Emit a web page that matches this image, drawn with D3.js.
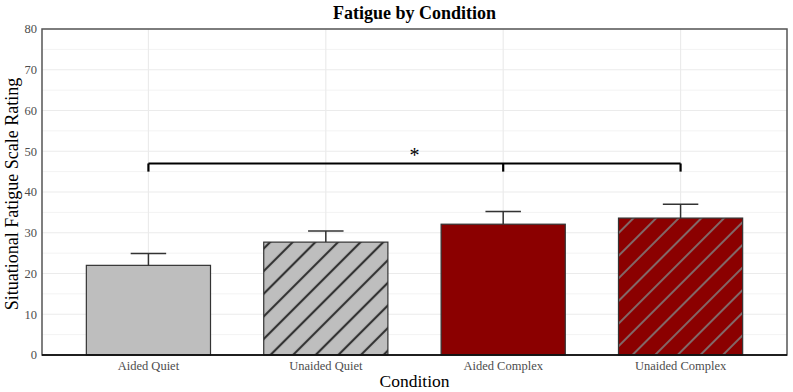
<!DOCTYPE html>
<html>
<head>
<meta charset="utf-8">
<script src="https://cdn.jsdelivr.net/npm/d3@7"></script>
<style>
  body { margin: 0; background: #fff; }
  text { font-family: "Liberation Serif", "Times New Roman", serif; }
</style>
</head>
<body>
<div id="chart"></div>
<script>
// data
const conditions = ["Aided Quiet", "Unaided Quiet", "Aided Complex", "Unaided Complex"];
const means = [22.0, 27.7, 32.1, 33.6];
const upper = [24.9, 30.4, 35.2, 37.0];
const fills = ["#bebebe", "#bebebe", "#8b0000", "#8b0000"];
const hatched = [false, true, false, true];
const yTicks = [0, 10, 20, 30, 40, 50, 60, 70, 80];
// significance bracket: from bar 1 to bar 4 with a tick at bar 3
const bracketY = 47, bracketDrop = 45;
const bracketAt = [0, 2, 3];

const W = 793, H = 392;
const margin = { top: 29, right: 6, bottom: 37, left: 42 };
const width = W - margin.left - margin.right,
    height = H - margin.top - margin.bottom;

const svg = d3.select("#chart").append("svg")
    .attr("width", W).attr("height", H);

// hatch patterns
const defs = svg.append("defs");
function hatch(id, bg, line, lw) {
    const s = 16;
    const p = defs.append("pattern")
        .attr("id", id)
        .attr("patternUnits", "userSpaceOnUse")
        .attr("width", s).attr("height", s)
        .attr("patternTransform", "rotate(-45)");
    p.append("rect").attr("width", s).attr("height", s).attr("fill", bg);
    p.append("rect").attr("x", 0).attr("y", (s - lw) / 2).attr("width", s).attr("height", lw).attr("fill", line);
}
hatch("hatchGrey", "#bebebe", "#333", 2.2);
hatch("hatchRed", "#8b0000", "#808080", 1.6);

const g = svg.append("g")
    .attr("transform", `translate(${margin.left}, ${margin.top})`);

// ggplot-like discrete scale: 0.6 expansion each side
const x = d3.scaleLinear().domain([0.4, conditions.length + 0.6]).range([0, width]);
const y = d3.scaleLinear().domain([0, 80]).range([height, 0]);
const barW = x(1.35) - x(1);
const capW = x(1.1) - x(1);

// grid
const minor = d3.range(5, 80, 10);
g.selectAll(".minor").data(minor).enter().append("line")
    .attr("x1", 0).attr("x2", width)
    .attr("y1", d => y(d)).attr("y2", d => y(d))
    .attr("stroke", "#f3f3f3").attr("stroke-width", 1);
g.selectAll(".major").data(yTicks).enter().append("line")
    .attr("x1", 0).attr("x2", width)
    .attr("y1", d => y(d)).attr("y2", d => y(d))
    .attr("stroke", "#ebebeb").attr("stroke-width", 1.2);
g.selectAll(".vgrid").data(conditions).enter().append("line")
    .attr("x1", (d, i) => x(i + 1)).attr("x2", (d, i) => x(i + 1))
    .attr("y1", 0).attr("y2", height)
    .attr("stroke", "#ebebeb").attr("stroke-width", 1.2);

// bars
g.selectAll(".bar").data(conditions).enter().append("rect")
    .attr("x", (d, i) => x(i + 1) - barW)
    .attr("y", (d, i) => y(means[i]))
    .attr("width", barW * 2)
    .attr("height", (d, i) => y(0) - y(means[i]))
    .attr("fill", (d, i) => hatched[i] ? (i < 2 ? "url(#hatchGrey)" : "url(#hatchRed)") : fills[i])
    .attr("stroke", "#333").attr("stroke-width", 1.2);

// error bars (upper only)
g.selectAll(".err").data(conditions).enter().append("line")
    .attr("x1", (d, i) => x(i + 1)).attr("x2", (d, i) => x(i + 1))
    .attr("y1", (d, i) => y(means[i])).attr("y2", (d, i) => y(upper[i]))
    .attr("stroke", "#333").attr("stroke-width", 1.5);
g.selectAll(".cap").data(conditions).enter().append("line")
    .attr("x1", (d, i) => x(i + 1) - capW).attr("x2", (d, i) => x(i + 1) + capW)
    .attr("y1", (d, i) => y(upper[i])).attr("y2", (d, i) => y(upper[i]))
    .attr("stroke", "#333").attr("stroke-width", 1.5);

// significance bracket
g.append("line")
    .attr("x1", x(bracketAt[0] + 1)).attr("x2", x(bracketAt[bracketAt.length - 1] + 1))
    .attr("y1", y(bracketY)).attr("y2", y(bracketY))
    .attr("stroke", "#000").attr("stroke-width", 2.2);
g.selectAll(".btick").data(bracketAt).enter().append("line")
    .attr("x1", d => x(d + 1)).attr("x2", d => x(d + 1))
    .attr("y1", y(bracketY)).attr("y2", y(bracketDrop))
    .attr("stroke", "#000").attr("stroke-width", 2.2);
g.append("text")
    .attr("x", x(2.5)).attr("y", y(bracketY) - 1)
    .attr("text-anchor", "middle")
    .style("font-size", "20px")
    .text("*");

// panel border
g.append("rect")
    .attr("width", width).attr("height", height)
    .attr("fill", "none").attr("stroke", "#555").attr("stroke-width", 1.5);
g.append("line")
    .attr("x1", 0).attr("x2", width).attr("y1", height).attr("y2", height)
    .attr("stroke", "#000").attr("stroke-width", 1.5);

// y tick labels
g.selectAll(".ylab").data(yTicks).enter().append("text")
    .attr("x", -5).attr("y", d => y(d)).attr("dy", "0.35em")
    .attr("text-anchor", "end")
    .attr("fill", "#4d4d4d")
    .style("font-size", "12.5px")
    .text(d => d);

// x tick labels
g.selectAll(".xlab").data(conditions).enter().append("text")
    .attr("x", (d, i) => x(i + 1)).attr("y", height + 15)
    .attr("text-anchor", "middle")
    .attr("fill", "#4d4d4d")
    .style("font-size", "12.5px")
    .text(d => d);

// titles
svg.append("text")
    .attr("x", margin.left + width / 2).attr("y", 19)
    .attr("text-anchor", "middle")
    .style("font-size", "18px").style("font-weight", "bold")
    .text("Fatigue by Condition");

svg.append("text")
    .attr("x", margin.left + width / 2).attr("y", 387)
    .attr("text-anchor", "middle")
    .style("font-size", "17.5px")
    .text("Condition");

svg.append("text")
    .attr("transform", `translate(18, ${margin.top + height / 2 + 2}) rotate(-90)`)
    .attr("text-anchor", "middle")
    .style("font-size", "18px")
    .text("Situational Fatigue Scale Rating");
</script>
</body>
</html>
